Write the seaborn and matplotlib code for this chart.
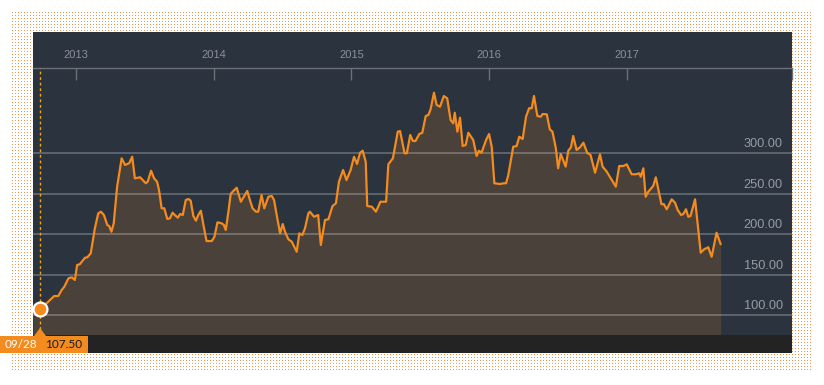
import matplotlib
matplotlib.use("Agg")
import numpy as np
import pandas as pd
import matplotlib.pyplot as plt
from matplotlib.patches import Rectangle, Polygon
import seaborn as sns

sns.set_theme(style="dark")
plt.rcParams['font.family'] = ['Liberation Sans', 'DejaVu Sans']

# --- data ---
dates = [
    "2012-09-09", "2012-09-28", "2012-10-15", "2012-11-04", "2012-11-15", "2012-11-24", "2012-12-01",
    "2012-12-12", "2012-12-21", "2012-12-29",
    "2013-01-04", "2013-01-11", "2013-01-25", "2013-01-31", "2013-02-09", "2013-02-20", "2013-03-01",
    "2013-03-08", "2013-03-16", "2013-03-25", "2013-03-30", "2013-04-05", "2013-04-11", "2013-04-20",
    "2013-05-02", "2013-05-11", "2013-05-22", "2013-05-30", "2013-06-06", "2013-06-20", "2013-07-05",
    "2013-07-10", "2013-07-19", "2013-07-27", "2013-08-04", "2013-08-09", "2013-08-16", "2013-08-23",
    "2013-08-31", "2013-09-07", "2013-09-14", "2013-09-20", "2013-09-28", "2013-10-04", "2013-10-11",
    "2013-10-19", "2013-10-26", "2013-11-01", "2013-11-08", "2013-11-15", "2013-11-21", "2013-11-28",
    "2013-12-04", "2013-12-13", "2013-12-27",
    "2014-01-03", "2014-01-11", "2014-01-22", "2014-01-28", "2014-02-02", "2014-02-09", "2014-02-15",
    "2014-02-22", "2014-03-03", "2014-03-14", "2014-03-22", "2014-03-31", "2014-04-07", "2014-04-14",
    "2014-04-23", "2014-04-29", "2014-05-08", "2014-05-15", "2014-05-26", "2014-06-04", "2014-06-10",
    "2014-06-17", "2014-06-26", "2014-07-03", "2014-07-09", "2014-07-18", "2014-07-27", "2014-08-09",
    "2014-08-16", "2014-08-24", "2014-08-31", "2014-09-09", "2014-09-13", "2014-09-24", "2014-10-05",
    "2014-10-12", "2014-10-23", "2014-11-01", "2014-11-12", "2014-11-21", "2014-11-29", "2014-12-10",
    "2014-12-19", "2014-12-30",
    "2015-01-08", "2015-01-16", "2015-01-24", "2015-01-31", "2015-02-08", "2015-02-12", "2015-02-24",
    "2015-03-07", "2015-03-19", "2015-04-03", "2015-04-09", "2015-04-21", "2015-05-04", "2015-05-10",
    "2015-05-22", "2015-05-28", "2015-06-06", "2015-06-13", "2015-06-20", "2015-06-30", "2015-07-08",
    "2015-07-17", "2015-07-24", "2015-07-30", "2015-08-08", "2015-08-15", "2015-08-24", "2015-09-03",
    "2015-09-12", "2015-09-21", "2015-09-28", "2015-10-02", "2015-10-09", "2015-10-16", "2015-10-23",
    "2015-10-31", "2015-11-07", "2015-11-16", "2015-11-20", "2015-11-29", "2015-12-05", "2015-12-12",
    "2015-12-24",
    "2016-01-01", "2016-01-08", "2016-01-15", "2016-01-30", "2016-02-09", "2016-02-15", "2016-02-21",
    "2016-03-05", "2016-03-14", "2016-03-21", "2016-03-30", "2016-04-08", "2016-04-16", "2016-04-23",
    "2016-04-29", "2016-05-08", "2016-05-17", "2016-05-22", "2016-06-02", "2016-06-10", "2016-06-17",
    "2016-06-26", "2016-07-02", "2016-07-09", "2016-07-22", "2016-07-29", "2016-08-05", "2016-08-11",
    "2016-08-20", "2016-08-29", "2016-09-07", "2016-09-17", "2016-09-26", "2016-10-08", "2016-10-21",
    "2016-10-28", "2016-11-08", "2016-12-02", "2016-12-11", "2016-12-22", "2016-12-31",
    "2017-01-13", "2017-01-24", "2017-02-02", "2017-02-06", "2017-02-13", "2017-02-19", "2017-02-26",
    "2017-03-11", "2017-03-18", "2017-03-24", "2017-04-02", "2017-04-08", "2017-04-16", "2017-04-29",
    "2017-05-08", "2017-05-15", "2017-05-24", "2017-05-30", "2017-06-06", "2017-06-12", "2017-06-18",
    "2017-06-30", "2017-07-15", "2017-07-24", "2017-08-04", "2017-08-13", "2017-08-26", "2017-09-06",
]
prices = [
    111.0, 107.5, 114.8, 123.8, 123.8, 131.2, 135.3, 145.7, 146.9, 143.6,
    162.1, 163.0, 171.1, 171.6, 176.5, 207.4, 225.9, 227.9, 223.8, 211.5,
    210.2, 203.2, 213.6, 258.8, 293.8, 285.6, 287.7, 295.8, 269.1, 270.4,
    263.0, 264.9, 278.5, 269.1, 264.9, 254.7, 232.1, 232.1, 218.9, 219.8,
    226.7, 223.8, 220.5, 225.1, 223.8, 242.3, 243.6, 241.5, 222.6, 216.8,
    223.8, 229.1, 213.6, 191.7, 191.7,
    197.0, 214.8, 213.6, 211.5, 205.3, 227.9, 249.8, 253.5, 257.5, 240.2,
    246.4, 253.5, 242.3, 232.1, 227.9, 227.9, 248.5, 232.1, 246.4, 247.3,
    242.3, 223.8, 201.2, 212.7, 203.2, 193.8, 190.9, 178.5, 201.2, 199.1,
    207.4, 225.9, 227.9, 221.7, 223.8, 186.8, 217.7, 218.5, 234.9, 238.3,
    264.9, 279.4, 267.0, 279.4,
    295.8, 286.8, 300.7, 303.2, 289.6, 234.9, 234.1, 227.9, 240.2, 240.2,
    286.4, 293.8, 326.7, 327.5, 300.0, 300.0, 322.6, 315.2, 315.2, 323.8,
    325.4, 346.0, 347.3, 354.3, 374.8, 359.6, 357.5, 370.7, 367.9, 341.1,
    337.0, 350.1, 326.7, 344.0, 309.0, 310.2, 325.4, 319.3, 316.4, 296.7,
    303.2, 300.7, 316.4,
    323.8, 308.1, 263.0, 262.1, 263.0, 263.0, 273.2, 308.1, 309.0, 320.5,
    317.7, 345.2, 355.6, 355.6, 370.7, 346.0, 345.2, 348.5, 348.1, 329.6,
    326.7, 306.2, 281.5, 299.1, 283.5, 303.2, 307.4, 321.4, 304.1, 307.4,
    313.1, 300.7, 297.9, 276.0, 298.8, 283.5, 277.3, 258.8, 284.3, 284.3,
    286.4,
    274.1, 274.1, 275.3, 271.1, 281.5, 246.4, 252.6, 259.6, 270.4, 256.8,
    237.0, 237.4, 230.9, 243.2, 239.0, 230.0, 223.8, 225.1, 230.9, 221.7,
    222.6, 243.2, 177.3, 181.5, 184.0, 172.3, 202.0, 187.7,
]
year_ticks = ["2013-01-01", "2014-01-01", "2015-01-01", "2016-01-01", "2017-01-01"]
year_labels = ["2013", "2014", "2015", "2016", "2017"]
price_ticks = [100, 150, 200, 250, 300]
hover_date = "2012-09-28"
hover_label = "09/28"
hover_value = 107.50

df = pd.DataFrame({"date": pd.to_datetime(dates), "price": prices})

# colours
ORANGE = "#f38b1e"
FILL = "#4a413a"
PANEL = "#2a333e"
BAR = "#232323"

W, H = 824, 385
fig = plt.figure(figsize=(W / 100, H / 100), dpi=100)
fig.patch.set_facecolor("white")


def rect(x0, y0, x1, y1):
    # pixel box (top-left origin) -> figure fraction [l, b, w, h]
    return [x0 / W, 1 - y1 / H, (x1 - x0) / W, (y1 - y0) / H]


def fpt(x, y):
    return (x / W, 1 - y / H)


# dotted frame, placed pixel for pixel
tex = np.ones((360, 800, 4))
tex[::3, ::3, :3] = np.array([238, 150, 80]) / 255
fig.figimage(tex, xo=12, yo=H - 372, origin="upper", zorder=-1)

# dark panel
panel = fig.add_axes(rect(33, 32, 792, 353))
panel.set_facecolor(PANEL)
panel.set_xticks([])
panel.set_yticks([])
for s in panel.spines.values():
    s.set_visible(False)

# main chart
ax = fig.add_axes(rect(33, 68, 792, 335))
ax.set_facecolor("none")
ax.grid(False)
x_min, x_max = pd.Timestamp("2012-09-09"), pd.Timestamp("2018-03-14")
y_min, y_max = 75.7, 405.3

ax.fill_between(df["date"], df["price"], y_min, color=FILL, lw=0, zorder=1)
for v in price_ticks:
    ax.axhline(v, color="white", alpha=0.28, lw=1.2, zorder=2)
    ax.annotate(f"{v:.2f}", xy=(1, v), xycoords=("axes fraction", "data"),
                xytext=(-9, 6), textcoords="offset pixels", ha="right", va="baseline",
                fontsize=9.2, color="#979ca3", zorder=4)
sns.lineplot(data=df, x="date", y="price", ax=ax, color=ORANGE, lw=1.6, zorder=3)

ax.axvline(pd.Timestamp(hover_date), color="#f5a50a", lw=1, ls=(0, (2, 2)), zorder=3)
ax.plot([pd.Timestamp(hover_date)], [hover_value], "o", ms=10, mfc=ORANGE, mec="white",
        mew=1.6, zorder=5, clip_on=False)

ax.set_xlim(x_min, x_max)
ax.set_ylim(y_min, y_max)
ax.set_xlabel("")
ax.set_ylabel("")
ax.set_yticks([])
ax.xaxis.tick_top()
ax.set_xticks(list(pd.to_datetime(year_ticks)) + [x_max])
ax.set_xticklabels(year_labels + [""])
ax.tick_params(axis="x", direction="in", length=8.6, width=1, color="#6c7178",
               labelcolor="#8b9098", labelsize=8, pad=5.5)
for name, s in ax.spines.items():
    s.set_visible(name == "top")
ax.spines["top"].set_color("#6c7178")
ax.spines["top"].set_linewidth(1)

# bottom navigator bar and hover label
fig.add_artist(Rectangle(fpt(33, 353), 759 / W, 18 / H, transform=fig.transFigure,
                         color=BAR, lw=0, zorder=5))
fig.add_artist(Rectangle(fpt(0, 353), 88 / W, 17 / H, transform=fig.transFigure,
                         color=ORANGE, lw=0, zorder=6))
fig.add_artist(Polygon([fpt(34, 336), fpt(46, 336), fpt(40, 328)], closed=True,
                       transform=fig.transFigure, color=ORANGE, lw=0, zorder=6))
fig.text(5 / W, 1 - 345 / H, hover_label, color="white", fontsize=8.5, family="Lato",
         va="center", ha="left", zorder=7)
fig.text(45 / W, 1 - 345 / H, f"{hover_value:.2f}", color="#1a1a1a", fontsize=8.5,
         family="Lato", va="center", ha="left", zorder=7)

fig.savefig("out.png", dpi=100)
